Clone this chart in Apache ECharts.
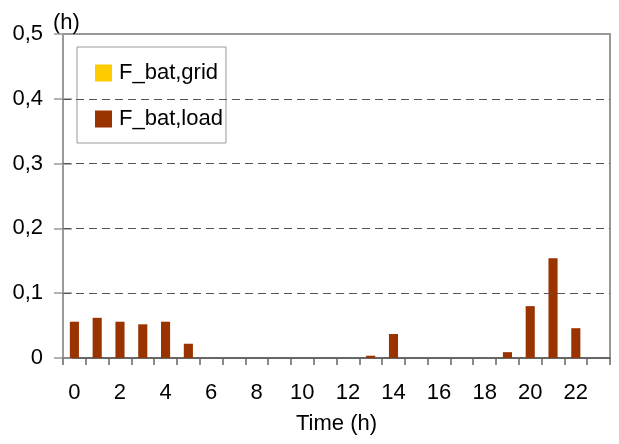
<!DOCTYPE html>
<html><head><meta charset="utf-8">
<script src="https://cdn.jsdelivr.net/npm/echarts@6/dist/echarts.min.js"></script>
<style>html,body{margin:0;padding:0;background:#fff}#c{width:619px;height:444px}</style>
</head><body><div id="c"></div>
<script>
const hours = ['0','1','2','3','4','5','6','7','8','9','10','11','12','13','14','15','16','17','18','19','20','21','22','23'];
const batGrid = [0,0,0,0,0,0,0,0,0,0,0,0,0,0,0,0,0,0,0,0,0,0,0,0];
const batLoad = [0.056,0.062,0.056,0.052,0.056,0.022,0,0,0,0,0,0,0,0.0035,0.037,0,0,0,0,0.009,0.080,0.154,0.046,0];
const gridLevels = [0.1,0.2,0.3,0.4];
const FONT = "'Liberation Sans',Arial,sans-serif";
const FS = 22;
const chart = echarts.init(document.getElementById('c'), null, {renderer:'canvas'});
const yBase = {
  type:'value',min:0,max:0.5,interval:0.1,position:'left',
  splitLine:{show:false}
};
chart.setOption({
  animation:false,
  textStyle:{fontFamily:FONT},
  grid:{left:63,right:9,top:34,bottom:86,show:true,borderColor:'#999',borderWidth:2,backgroundColor:'#fff'},
  legend:{
    orient:'vertical',left:77,top:47,
    backgroundColor:'#fff',borderColor:'#999',borderWidth:1,
    padding:[15,3,13,18],itemWidth:17,itemHeight:17,itemGap:24,
    icon:'rect',
    textStyle:{fontFamily:FONT,fontSize:FS,lineHeight:22,color:'#000',padding:[0,0,0,2]},
    data:['F_bat,grid','F_bat,load']
  },
  xAxis:{
    type:'category',data:hours,name:'Time (h)',nameLocation:'middle',nameGap:55,
    nameTextStyle:{fontFamily:FONT,fontSize:FS,color:'#000'},
    axisLine:{lineStyle:{color:'#666',width:2}},
    axisTick:{show:true,interval:0,length:7,lineStyle:{color:'#666',width:1.5}},
    axisLabel:{interval:1,margin:24,fontFamily:FONT,fontSize:FS,color:'#000'},
    splitLine:{show:false}
  },
  yAxis:[
    Object.assign({}, yBase, {
      name:'(h)',nameLocation:'end',nameGap:0,
      nameTextStyle:{fontFamily:FONT,fontSize:FS,color:'#000',align:'left',padding:[0,0,0,-10]},
      axisLine:{show:true,lineStyle:{color:'#999',width:2}},
      axisTick:{show:true,length:9,lineStyle:{color:'#999',width:1.5}},
      axisLabel:{margin:20,fontFamily:FONT,fontSize:FS,color:'#000',formatter:v=>String(+v.toFixed(1)).replace('.',',')}
    }),
    Object.assign({}, yBase, {
      axisLine:{show:false},
      axisTick:{show:true,inside:true,length:9,lineStyle:{color:'#999',width:1.5}},
      axisLabel:{show:false}
    })
  ],
  series:[
    {name:'F_bat,grid',type:'bar',data:batGrid,itemStyle:{color:'#FFCC00'},barWidth:'40%',barGap:'-100%'},
    {name:'F_bat,load',type:'bar',data:batLoad,itemStyle:{color:'#993300'},barWidth:'40%',barGap:'-100%',
     markLine:{silent:true,symbol:'none',label:{show:false},
       lineStyle:{type:[8,5],color:'#555',width:1.2},
       data:gridLevels.map(v=>({yAxis:v}))}}
  ]
});
</script></body></html>
